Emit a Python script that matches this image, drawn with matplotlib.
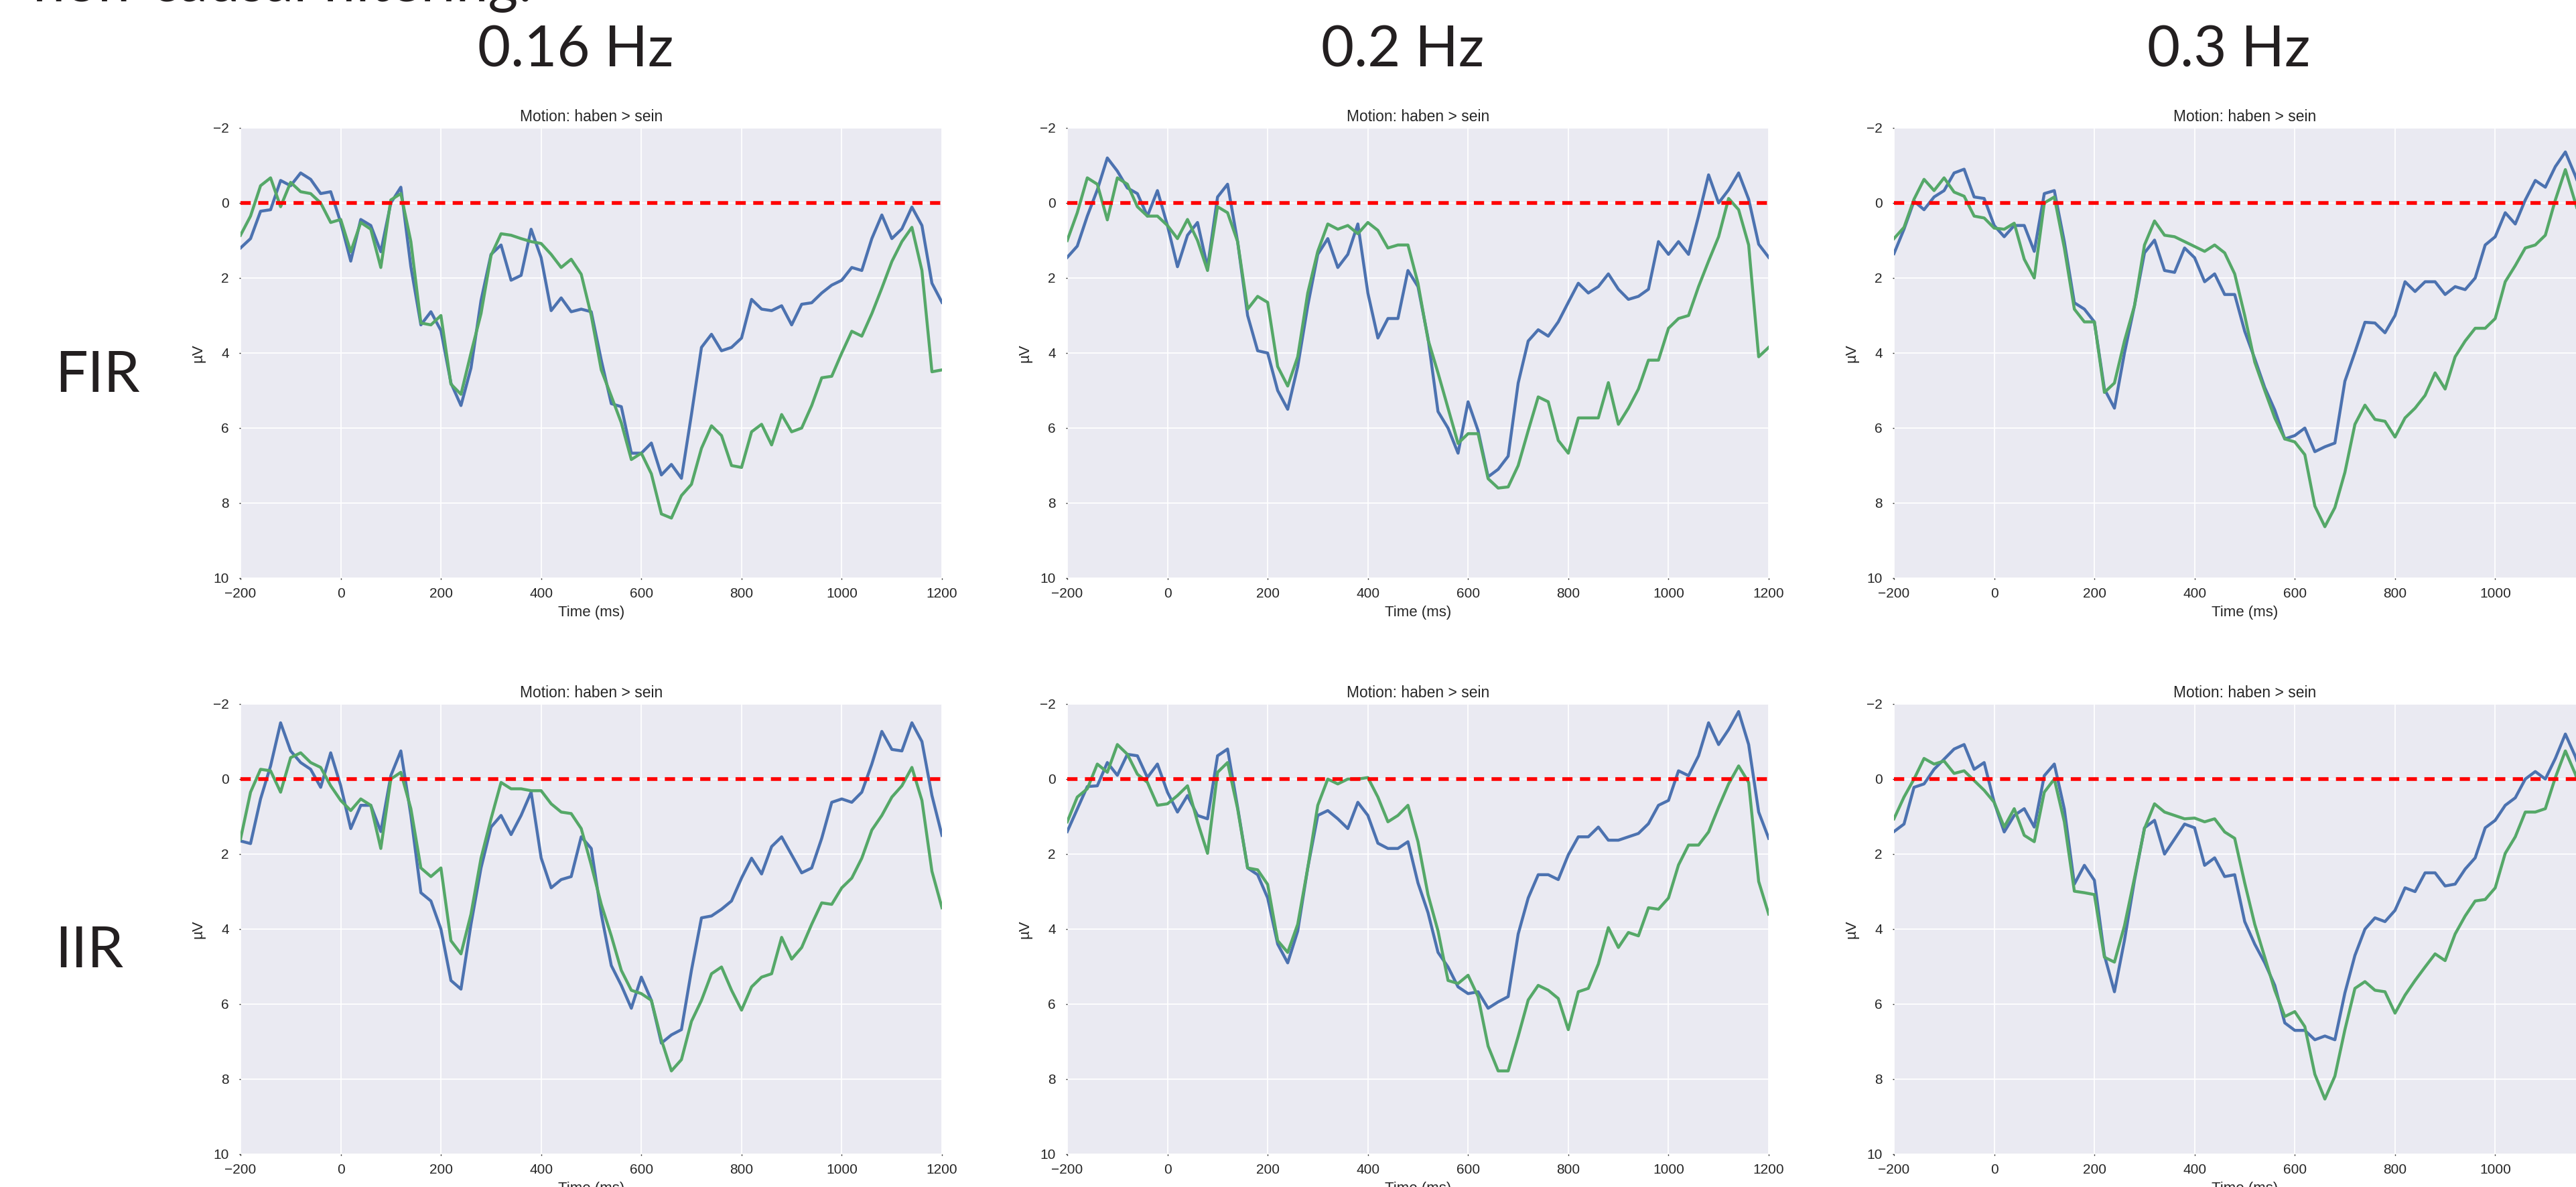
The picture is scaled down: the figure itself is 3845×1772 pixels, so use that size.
#!/usr/bin/env python3

import matplotlib
matplotlib.use('Agg')
from matplotlib import pyplot as plt

import numpy as np


# time axis (ms), one reading every 20 ms
times = np.arange(-200, 1201, 20)

freq_labels = ['0.16 Hz', '0.2 Hz', '0.3 Hz']
filter_labels = ['FIR', 'IIR']
panel_title = 'Motion: haben > sein'
slide_title = 'non-causal filtering:'

# FIR, 0.16 Hz
fir_016_blue = [1.2, 0.95, 0.22, 0.18, -0.6, -0.46, -0.8, -0.63, -0.25, -0.3,
                0.52, 1.55, 0.44, 0.6, 1.3, 0.0, -0.42, 1.7, 3.25, 2.9,
                3.4, 4.8, 5.4, 4.4, 2.6, 1.37, 1.12, 2.06, 1.93, 0.7,
                1.46, 2.87, 2.53, 2.9, 2.83, 2.9, 4.19, 5.35, 5.43, 6.67,
                6.67, 6.4, 7.25, 6.97, 7.34, 5.64, 3.85, 3.5, 3.94, 3.85,
                3.6, 2.57, 2.83, 2.87, 2.74, 3.25, 2.7, 2.66, 2.4, 2.19,
                2.06, 1.72, 1.8, 0.95, 0.32, 0.95, 0.69, 0.11, 0.6, 2.14,
                2.65]
fir_016_green = [0.86, 0.35, -0.46, -0.67, 0.1, -0.55, -0.3, -0.25, 0.0, 0.52,
                 0.44, 1.3, 0.52, 0.7, 1.72, -0.08, -0.25, 1.03, 3.2, 3.25,
                 3.0, 4.83, 5.1, 4.0, 2.95, 1.4, 0.82, 0.86, 0.95, 1.03,
                 1.08, 1.37, 1.72, 1.5, 1.9, 3.0, 4.45, 5.15, 5.86, 6.84,
                 6.67, 7.22, 8.29, 8.4, 7.8, 7.5, 6.54, 5.94, 6.2, 7.0,
                 7.05, 6.1, 5.9, 6.45, 5.64, 6.1, 6.0, 5.4, 4.66, 4.62,
                 4.0, 3.42, 3.55, 2.95, 2.27, 1.56, 1.03, 0.65, 1.8, 4.5,
                 4.45]

# FIR, 0.2 Hz
fir_02_blue = [1.45, 1.15, 0.35, -0.35, -1.2, -0.85, -0.4, -0.25, 0.35, -0.33,
               0.6, 1.7, 0.86, 0.52, 1.72, -0.16, -0.5, 1.03, 3.0, 3.94,
               4.0, 5.0, 5.5, 4.36, 2.74, 1.37, 0.95, 1.72, 1.37, 0.56,
               2.4, 3.6, 3.08, 3.08, 1.8, 2.23, 3.6, 5.56, 6.0, 6.67,
               5.3, 6.07, 7.3, 7.1, 6.75, 4.8, 3.68, 3.38, 3.55, 3.17,
               2.65, 2.14, 2.4, 2.23, 1.89, 2.3, 2.57, 2.49, 2.3, 1.03,
               1.37, 1.03, 1.37, 0.35, -0.75, 0.0, -0.35, -0.8, -0.1, 1.1,
               1.45]
fir_02_green = [1.0, 0.26, -0.67, -0.5, 0.45, -0.67, -0.5, 0.1, 0.35, 0.35,
                0.6, 0.95, 0.44, 1.0, 1.8, 0.1, 0.26, 1.03, 2.83, 2.49,
                2.65, 4.36, 4.88, 4.1, 2.4, 1.29, 0.56, 0.7, 0.6, 0.82,
                0.52, 0.73, 1.2, 1.12, 1.12, 2.14, 3.64, 4.53, 5.47, 6.41,
                6.15, 6.15, 7.35, 7.6, 7.57, 7.0, 6.07, 5.17, 5.3, 6.33,
                6.67, 5.73, 5.73, 5.73, 4.79, 5.9, 5.47, 4.96, 4.19, 4.19,
                3.34, 3.08, 3.0, 2.23, 1.55, 0.9, -0.12, 0.18, 1.12, 4.1,
                3.85]

# FIR, 0.3 Hz
fir_03_blue = [1.35, 0.7, -0.05, 0.18, -0.16, -0.33, -0.8, -0.9, -0.16, -0.12,
               0.6, 0.9, 0.6, 0.6, 1.29, -0.25, -0.33, 1.03, 2.66, 2.83,
               3.17, 4.96, 5.47, 4.0, 2.74, 1.33, 0.99, 1.8, 1.85, 1.2,
               1.46, 2.1, 1.89, 2.44, 2.44, 3.42, 4.15, 4.92, 5.52, 6.29,
               6.2, 6.0, 6.63, 6.5, 6.4, 4.75, 3.98, 3.18, 3.2, 3.46,
               3.0, 2.1, 2.36, 2.1, 2.1, 2.44, 2.23, 2.31, 2.0, 1.12,
               0.9, 0.26, 0.56, -0.08, -0.6, -0.42, -0.97, -1.36, -0.72, 0.0,
               0.6]
fir_03_green = [0.95, 0.65, -0.1, -0.63, -0.33, -0.67, -0.29, -0.18, 0.35, 0.4,
                0.67, 0.7, 0.54, 1.5, 2.0, 0.0, -0.16, 1.2, 2.83, 3.17,
                3.17, 5.05, 4.8, 3.68, 2.74, 1.12, 0.48, 0.86, 0.9, 1.03,
                1.16, 1.29, 1.12, 1.33, 1.89, 3.0, 4.24, 5.0, 5.73, 6.29,
                6.37, 6.71, 8.08, 8.63, 8.12, 7.18, 5.9, 5.39, 5.77, 5.82,
                6.24, 5.73, 5.47, 5.13, 4.53, 4.96, 4.1, 3.68, 3.34, 3.34,
                3.08, 2.1, 1.67, 1.2, 1.12, 0.86, -0.08, -0.89, 0.0, 0.9,
                1.6]

# IIR, 0.16 Hz
iir_016_blue = [1.65, 1.72, 0.53, -0.35, -1.5, -0.75, -0.44, -0.26, 0.22, -0.7,
                0.18, 1.32, 0.7, 0.7, 1.4, -0.09, -0.75, 0.97, 3.03, 3.25,
                4.0, 5.37, 5.6, 3.87, 2.37, 1.28, 0.97, 1.48, 0.97, 0.35,
                2.1, 2.9, 2.68, 2.6, 1.54, 1.85, 3.6, 4.97, 5.5, 6.11,
                5.28, 5.9, 7.04, 6.82, 6.68, 5.1, 3.7, 3.65, 3.47, 3.25,
                2.64, 2.11, 2.53, 1.8, 1.54, 2.02, 2.5, 2.37, 1.58, 0.62,
                0.53, 0.62, 0.35, -0.4, -1.27, -0.79, -0.75, -1.5, -1.0, 0.44,
                1.5]
iir_016_green = [1.6, 0.35, -0.26, -0.22, 0.35, -0.57, -0.7, -0.44, -0.31, 0.18,
                 0.57, 0.84, 0.53, 0.7, 1.85, 0.0, -0.18, 0.79, 2.37, 2.6,
                 2.37, 4.31, 4.66, 3.6, 2.11, 1.06, 0.09, 0.26, 0.26, 0.31,
                 0.31, 0.66, 0.88, 0.92, 1.32, 2.29, 3.34, 4.18, 5.1, 5.63,
                 5.72, 5.9, 6.95, 7.78, 7.48, 6.46, 5.9, 5.19, 5.01, 5.63,
                 6.16, 5.54, 5.28, 5.19, 4.22, 4.8, 4.49, 3.87, 3.3, 3.34,
                 2.9, 2.64, 2.11, 1.36, 0.97, 0.48, 0.18, -0.31, 0.57, 2.46,
                 3.43]

# IIR, 0.2 Hz
iir_02_blue = [1.4, 0.8, 0.2, 0.18, -0.44, -0.1, -0.66, -0.62, -0.04, -0.4,
               0.35, 0.88, 0.44, 0.97, 1.06, -0.62, -0.8, 0.75, 2.37, 2.55,
               3.17, 4.4, 4.9, 4.05, 2.37, 0.97, 0.84, 1.06, 1.32, 0.62,
               0.97, 1.71, 1.85, 1.85, 1.67, 2.77, 3.56, 4.62, 5.01, 5.54,
               5.72, 5.67, 6.11, 5.94, 5.8, 4.13, 3.17, 2.55, 2.55, 2.68,
               2.02, 1.54, 1.54, 1.28, 1.63, 1.63, 1.54, 1.45, 1.19, 0.7,
               0.57, -0.22, -0.09, -0.62, -1.5, -0.92, -1.32, -1.8, -0.92, 0.88,
               1.58]
iir_02_green = [1.14, 0.48, 0.26, -0.4, -0.18, -0.92, -0.66, -0.13, 0.09, 0.7,
                0.66, 0.44, 0.18, 1.14, 1.98, -0.18, -0.44, 0.79, 2.37, 2.42,
                2.81, 4.31, 4.62, 3.87, 2.37, 0.7, 0.0, 0.13, 0.0, 0.0,
                -0.04, 0.48, 1.14, 0.97, 0.7, 1.67, 3.08, 4.05, 5.37, 5.45,
                5.23, 5.8, 7.12, 7.78, 7.78, 6.86, 5.89, 5.5, 5.63, 5.85,
                6.68, 5.67, 5.58, 4.93, 3.96, 4.49, 4.09, 4.18, 3.43, 3.47,
                3.17, 2.29, 1.76, 1.76, 1.41, 0.75, 0.13, -0.35, 0.09, 2.73,
                3.6]

# IIR, 0.3 Hz
iir_03_blue = [1.4, 1.2, 0.22, 0.13, -0.26, -0.53, -0.8, -0.92, -0.26, -0.44,
               0.62, 1.41, 0.97, 0.79, 1.28, -0.09, -0.4, 0.8, 2.8, 2.3,
               2.7, 4.7, 5.67, 4.3, 2.7, 1.3, 1.1, 2.0, 1.6, 1.2,
               1.3, 2.3, 2.1, 2.6, 2.55, 3.8, 4.4, 4.9, 5.5, 6.5,
               6.7, 6.7, 6.95, 6.85, 6.95, 5.7, 4.7, 4.0, 3.7, 3.8,
               3.5, 2.9, 3.0, 2.5, 2.5, 2.85, 2.8, 2.4, 2.1, 1.3,
               1.1, 0.7, 0.5, 0.0, -0.2, 0.0, -0.55, -1.2, -0.6, 0.2,
               0.9]
iir_03_green = [1.06, 0.48, 0.0, -0.55, -0.4, -0.48, -0.15, -0.22, 0.04, 0.3,
                0.62, 1.28, 0.79, 1.5, 1.67, 0.35, 0.0, 1.14, 2.99, 3.03,
                3.08, 4.75, 4.88, 3.91, 2.64, 1.32, 0.66, 0.88, 0.97, 1.06,
                1.04, 1.14, 1.06, 1.41, 1.58, 2.77, 3.87, 4.75, 5.63, 6.33,
                6.2, 6.6, 7.87, 8.53, 7.92, 6.68, 5.58, 5.4, 5.63, 5.67,
                6.24, 5.76, 5.37, 5.01, 4.66, 4.84, 4.13, 3.65, 3.25, 3.21,
                2.9, 1.98, 1.54, 0.88, 0.88, 0.79, -0.04, -0.75, -0.13, 0.7,
                1.5]


BLUE = '#4C72B0'
GREEN = '#55A868'
BG = '#EAEAF2'
TEXT = '#262626'
BIG = '#231F20'

plt.rcParams['font.family'] = ['Liberation Sans', 'DejaVu Sans']
plt.rcParams['lines.scale_dashes'] = False

W, H = 3845, 1772
fig = plt.figure(figsize=(W / 100, H / 100), dpi=100)

# panel geometry in pixels (the third column runs past the right edge)
col_left = [359, 1593, 2827]
row_top = [191, 1051]
ax_w, ax_h = 1047, 672

panels = [[(fir_016_blue, fir_016_green), (fir_02_blue, fir_02_green),
           (fir_03_blue, fir_03_green)],
          [(iir_016_blue, iir_016_green), (iir_02_blue, iir_02_green),
           (iir_03_blue, iir_03_green)]]

for r, row in enumerate(panels):
    for c, (blue, green) in enumerate(row):
        ax = fig.add_axes([col_left[c] / W, 1 - (row_top[r] + ax_h) / H,
                           ax_w / W, ax_h / H])
        ax.set_facecolor(BG)
        for spine in ax.spines.values():
            spine.set_visible(False)
        ax.grid(True, color='white', linewidth=1.3)
        ax.set_axisbelow(True)

        ax.plot(times, blue, color=BLUE, linewidth=3.2)
        ax.plot(times, green, color=GREEN, linewidth=3.2)
        ax.axhline(0, color='red', dashes=(11, 8), linewidth=4)

        ax.set_xlim(-200, 1200)
        ax.set_ylim(10, -2)
        ax.set_xticks(range(-200, 1201, 200))
        ax.set_yticks(range(-2, 11, 2))
        ax.tick_params(labelsize=15, colors=TEXT, length=1.5, width=1)
        ax.tick_params(axis='x', pad=8.5)
        ax.tick_params(axis='y', pad=11)

        ax.set_title(panel_title, fontsize=16.5, color=TEXT, pad=7)
        ax.set_ylabel('µV', fontsize=16, color=TEXT, labelpad=8)
        ax.set_xlabel('Time (ms)', fontsize=16, color=TEXT, labelpad=6)

# slide text
fig.text(49 / W, 1 - 1 / H, slide_title, family='Lato', fontsize=62,
         color=BIG, ha='left', va='baseline')
for x, label in zip([859, 2094, 3327], freq_labels):
    fig.text(x / W, 1 - 100 / H, label, family='Lato', fontsize=61,
             color=BIG, ha='center', va='baseline')
for y, label in zip([585, 1444], filter_labels):
    fig.text(82 / W, 1 - y / H, label, family='Lato', fontsize=62,
             color=BIG, ha='left', va='baseline')

fig.savefig('out.png', dpi=100)
